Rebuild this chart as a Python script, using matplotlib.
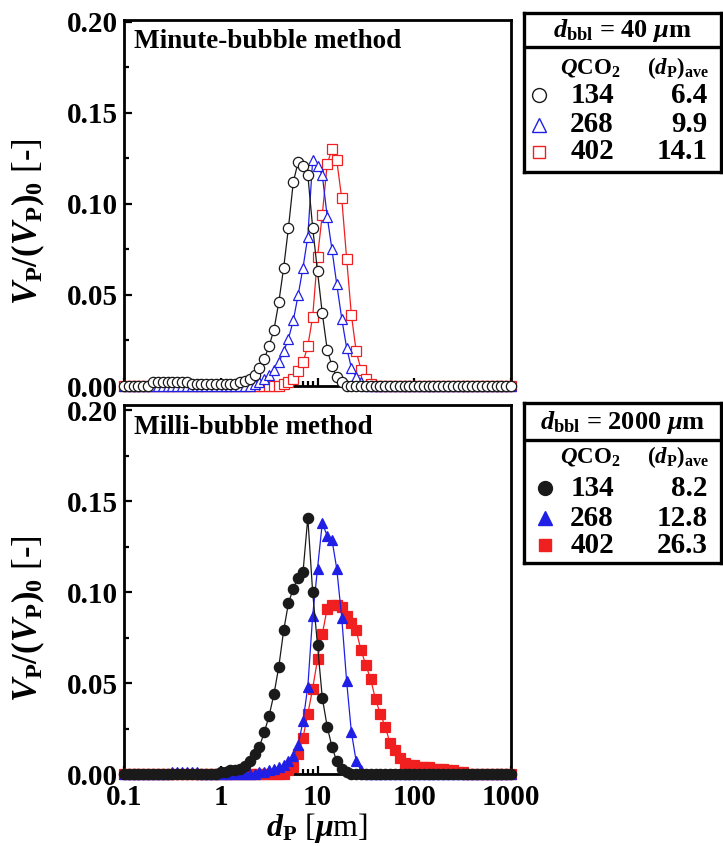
import matplotlib
matplotlib.use("Agg")
import matplotlib.pyplot as plt
from matplotlib.ticker import LogLocator, MultipleLocator, FuncFormatter, NullFormatter

plt.rcParams['font.family'] = ['Liberation Serif', 'DejaVu Serif']
plt.rcParams['font.weight'] = 'bold'
plt.rcParams['mathtext.fontset'] = 'custom'
plt.rcParams['mathtext.rm'] = 'Liberation Serif:bold'
plt.rcParams['mathtext.it'] = 'Liberation Serif:bold:italic'
plt.rcParams['mathtext.bf'] = 'Liberation Serif:bold'

# particle size bins [um], 20 per decade
d_p = [
    0.100, 0.112, 0.126, 0.141, 0.158, 0.178, 0.200, 0.224, 0.251, 0.282,
    0.316, 0.355, 0.398, 0.447, 0.501, 0.562, 0.631, 0.708, 0.794, 0.891,
    1.00, 1.12, 1.26, 1.41, 1.58, 1.78, 2.00, 2.24, 2.51, 2.82,
    3.16, 3.55, 3.98, 4.47, 5.01, 5.62, 6.31, 7.08, 7.94, 8.91,
    10.0, 11.2, 12.6, 14.1, 15.8, 17.8, 20.0, 22.4, 25.1, 28.2,
    31.6, 35.5, 39.8, 44.7, 50.1, 56.2, 63.1, 70.8, 79.4, 89.1,
    100, 112, 126, 141, 158, 178, 200, 224, 251, 282,
    316, 355, 398, 447, 501, 562, 631, 708, 794, 891,
    1000,
]

q_co2 = ['134', '268', '402']

# minute-bubble method (d_bbl = 40 um)
minute_dp_ave = ['6.4', '9.9', '14.1']
minute_134 = [
    0, 0, 0, 0, 0, 0, .002, .002, .002, .002, .002, .002, .002, .002, .001, .001, .001, .001, .001, .001,
    .001, .001, .001, .001, .002, .003, .004, .006, .010, .015, .022, .031, .046, .065, .087, .112, .123, .121, .116, .087,
    .063, .040, .020, .011, .005, .002, 0, 0, 0, 0, 0, 0, 0, 0, 0, 0, 0, 0, 0, 0,
    0, 0, 0, 0, 0, 0, 0, 0, 0, 0, 0, 0, 0, 0, 0, 0, 0, 0, 0, 0,
    0,
]
minute_268 = [
    0, 0, 0, 0, 0, 0, 0, 0, 0, 0, 0, 0, 0, 0, 0, 0, 0, 0, 0, 0,
    0, 0, 0, 0, 0, 0, 0, .001, .002, .004, .006, .009, .013, .019, .026, .036, .050, .065, .082, .124,
    .121, .116, .093, .075, .056, .037, .021, .010, .005, .002, 0, 0, 0, 0, 0, 0, 0, 0, 0, 0,
    0, 0, 0, 0, 0, 0, 0, 0, 0, 0, 0, 0, 0, 0, 0, 0, 0, 0, 0, 0,
    0,
]
minute_402 = [
    0, 0, 0, 0, 0, 0, 0, 0, 0, 0, 0, 0, 0, 0, 0, 0, 0, 0, 0, 0,
    0, 0, 0, 0, 0, 0, 0, 0, 0, 0, 0, 0, 0, .001, .002, .004, .008, .013, .022, .038,
    .071, .094, .122, .130, .124, .103, .070, .039, .019, .009, .004, .001, 0, 0, 0, 0, 0, 0, 0, 0,
    0, 0, 0, 0, 0, 0, 0, 0, 0, 0, 0, 0, 0, 0, 0, 0, 0, 0, 0, 0,
    0,
]

# milli-bubble method (d_bbl = 2000 um)
milli_dp_ave = ['8.2', '12.8', '26.3']
milli_134 = [
    0, 0, 0, 0, 0, 0, 0, 0, 0, 0, 0, 0, 0, 0, 0, 0, 0, 0, 0, 0,
    .001, .001, .002, .002, .003, .0045, .007, .011, .015, .023, .032, .044, .059, .079, .094, .102, .108, .111, .141, .100,
    .071, .042, .026, .015, .007, .003, .001, 0, 0, 0, 0, 0, 0, 0, 0, 0, 0, 0, 0, 0,
    0, 0, 0, 0, 0, 0, 0, 0, 0, 0, 0, 0, 0, 0, 0, 0, 0, 0, 0, 0,
    0,
]
milli_268 = [
    0, 0, 0, 0, 0, 0, 0, 0, 0, 0, .001, .001, .001, .001, .001, .001, 0, 0, 0, 0,
    0, 0, 0, 0, 0, 0, 0, 0, .001, .001, .002, .003, .004, .005, .007, .010, .016, .029, .048, .087,
    .113, .138, .131, .129, .113, .086, .051, .023, .007, .002, 0, 0, 0, 0, 0, 0, 0, 0, 0, 0,
    0, 0, 0, 0, 0, 0, 0, 0, 0, 0, 0, 0, 0, 0, 0, 0, 0, 0, 0, 0,
    0,
]
milli_402 = [
    0, 0, 0, 0, 0, 0, 0, 0, 0, 0, 0, 0, 0, 0, 0, 0, 0, 0, 0, 0,
    0, 0, 0, 0, 0, 0, 0, 0, 0, 0, 0, 0, 0, 0, .002, .004, .011, .020, .033, .047,
    .063, .077, .091, .093, .093, .092, .087, .083, .079, .068, .060, .052, .041, .033, .026, .017, .013, .009, .006, .005,
    .005, .004, .004, .004, .003, .003, .003, .002, .002, .001, .001, 0, 0, 0, 0, 0, 0, 0, 0, 0,
    0,
]

colors = ['#1a1a1a', '#1f1fe6', '#f02020']
markers = ['o', '^', 's']


def draw_panel(ax, series, filled, title, ytop):
    # draw red and blue first so the black curve sits on top
    for i in (2, 1, 0):
        face = colors[i] if filled else 'white'
        ax.plot(d_p, series[i], color=colors[i], lw=0.9, marker=markers[i],
                ms=7.4 if markers[i] != 's' else 6.6, mfc=face, mec=colors[i],
                mew=0.9, clip_on=False, zorder=3 + (2 - i))
    ax.set_xscale('log')
    ax.set_xlim(0.1, 1000)
    ax.set_ylim(0, ytop)
    ax.yaxis.set_major_locator(MultipleLocator(0.05))
    ax.yaxis.set_minor_locator(MultipleLocator(0.025))
    ax.yaxis.set_major_formatter(FuncFormatter(lambda v, _: f'{v:.2f}'))
    ax.xaxis.set_major_locator(LogLocator(base=10, numticks=10))
    ax.xaxis.set_minor_locator(LogLocator(base=10, subs=range(2, 10), numticks=50))
    ax.xaxis.set_minor_formatter(NullFormatter())
    ax.tick_params(which='both', direction='in', width=1.6, labelsize=21)
    ax.tick_params(which='major', length=6, pad=4)
    ax.tick_params(axis='x', which='major', pad=7)
    ax.tick_params(which='minor', length=3.5)
    for s in ax.spines.values():
        s.set_linewidth(2.0)
    ax.text(0.025, 0.94, title, transform=ax.transAxes, fontsize=19.5,
            va='center', ha='left')
    ax.set_ylabel(r'$V_{\mathrm{P}}/(V_{\mathrm{P}})_{0}$ [-]', fontsize=25)
    ax.yaxis.set_label_coords(-0.2, 0.45)


def draw_table(ax, header, dp_ave, filled, ys):
    ax.set_xlim(0, 1)
    ax.set_ylim(0, 1)
    ax.set_xticks([])
    ax.set_yticks([])
    for s in ax.spines.values():
        s.set_linewidth(2.4)
    ax.axhline(ys[0], color='black', lw=2.4)
    ax.text(0.5, ys[1], header, fontsize=19, ha='center', va='center')
    ax.text(0.335, ys[2], r'$Q$CO$_{\mathrm{2}}$', fontsize=16.5, ha='center', va='center')
    ax.text(0.78, ys[2], r'$(d_{\mathrm{P}})_{\mathrm{ave}}$', fontsize=16.5, ha='center', va='center')
    for i in range(3):
        y = ys[3 + i]
        face = colors[i] if filled else 'white'
        ax.plot([0.075 if not filled else 0.105], [y], marker=markers[i],
                ms=10 if markers[i] != 's' else 9, mfc=face, mec=colors[i],
                mew=1.0, ls='none')
        ax.text(0.345, y, q_co2[i], fontsize=21, ha='center', va='center')
        ax.text(0.93, y, dp_ave[i], fontsize=21, ha='right', va='center')


fig = plt.figure(figsize=(7.23, 8.46), dpi=100)

ax_top = fig.add_axes([0.1715, 0.5437, 0.5353, 0.4327])
ax_bot = fig.add_axes([0.1715, 0.0851, 0.5353, 0.4362])

draw_panel(ax_top, [minute_134, minute_268, minute_402], False, 'Minute-bubble method', 0.201)
draw_panel(ax_bot, [milli_134, milli_268, milli_402], True, 'Milli-bubble method', 0.203)

ax_top.xaxis.set_major_formatter(NullFormatter())
ax_bot.xaxis.set_major_formatter(FuncFormatter(lambda v, _: f'{v:g}'))
ax_bot.yaxis.set_label_coords(-0.2, 0.42)
ax_bot.set_xlabel(r'$d_{\mathrm{P}}$ [$\mu$m]', fontsize=23, labelpad=0)

tab_top = fig.add_axes([0.7248, 0.7967, 0.2725, 0.1879])
draw_table(tab_top, r'$d_{\mathrm{bbl}}$ = 40 $\mu$m', minute_dp_ave, False,
           [0.786, 0.893, 0.654, 0.484, 0.296, 0.126])

tab_bot = fig.add_axes([0.7248, 0.3345, 0.2725, 0.189])
draw_table(tab_bot, r'$d_{\mathrm{bbl}}$ = 2000 $\mu$m', milli_dp_ave, True,
           [0.769, 0.881, 0.6625, 0.469, 0.281, 0.1125])

fig.savefig('out.png', dpi=100)
